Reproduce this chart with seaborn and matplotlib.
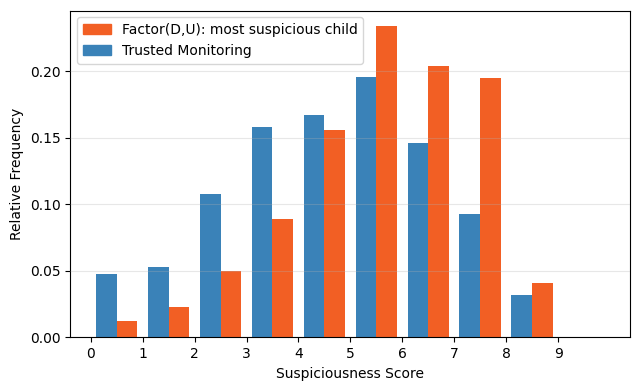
import numpy as np
import pandas as pd
import seaborn as sns
import matplotlib.pyplot as plt
from matplotlib.patches import Patch

# relative frequencies per suspiciousness score
scores = [0, 1, 2, 3, 4, 5, 6, 7, 8, 9]
trusted_freq = [0.048, 0.053, 0.108, 0.158, 0.167, 0.196, 0.146, 0.093, 0.032, 0.0]
factor_freq = [0.012, 0.023, 0.050, 0.089, 0.156, 0.234, 0.204, 0.195, 0.041, 0.0]

tm_label = 'Trusted Monitoring'
fd_label = 'Factor(D,U): most suspicious child'
colors = {tm_label: '#3a82b8', fd_label: '#f25f24'}

df = pd.concat([
    pd.DataFrame({'score': scores, 'freq': trusted_freq, 'series': tm_label}),
    pd.DataFrame({'score': scores, 'freq': factor_freq, 'series': fd_label}),
], ignore_index=True)

# plain matplotlib look (black text, full box)
plt.rcParams['font.family'] = ['DejaVu Sans']

fig, ax = plt.subplots(figsize=(6.4, 3.9), dpi=100)
sns.histplot(data=df, x='score', weights='freq', hue='series',
             hue_order=[tm_label, fd_label], palette=colors,
             bins=range(0, 11), multiple='dodge', shrink=0.8,
             alpha=1, linewidth=0, legend=False, ax=ax)

ax.set_xticks(scores)
ax.set_xlabel('Suspiciousness Score')
ax.set_ylabel('Relative Frequency')
ax.grid(axis='y', alpha=0.3)
ax.set_axisbelow(False)

handles = [Patch(color=colors[fd_label], label=fd_label),
           Patch(color=colors[tm_label], label=tm_label)]
ax.legend(handles=handles, loc='upper left')

plt.subplots_adjust(left=0.110, right=0.985, top=0.973, bottom=0.135)
plt.savefig('out.png')
